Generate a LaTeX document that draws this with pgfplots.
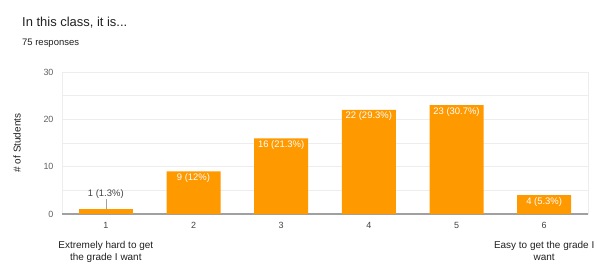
\documentclass[border=0pt]{standalone}
\usepackage{fontspec}
\setmainfont{Liberation Sans}
\usepackage{pgfplots}
\pgfplotsset{compat=1.18}
\definecolor{barorange}{HTML}{FF9900}
\definecolor{gridc}{HTML}{EDEDED}
\definecolor{txt}{HTML}{212121}
\definecolor{tickc}{HTML}{444444}
\definecolor{ytickc}{HTML}{616161}
\definecolor{basec}{HTML}{A0A0A0}
\begin{document}
\begin{tikzpicture}[x=1bp,y=1bp]
\path[use as bounding box, fill=white] (0,0) rectangle (597,269);
\node[anchor=base west, font=\fontsize{13}{15}\selectfont, text=txt, inner sep=0] at (22,242.5) {In this class, it is...};
\node[anchor=base west, font=\fontsize{9.5}{11}\selectfont, text=txt, inner sep=0] at (22,223.5) {75 responses};
\node[rotate=90, font=\fontsize{10}{12}\selectfont, text=txt, inner sep=0] at (17,126) {\# of Students};
\begin{axis}[
  at={(62bp,55bp)}, anchor=south west,
  scale only axis, width=526bp, height=142bp,
  xmin=0.5, xmax=6.5, ymin=0, ymax=30,
  xtick={1,2,3,4,5,6}, xticklabels={1,2,3,4,5,6},
  ytick={0,10,20,30}, minor ytick={5,15,25},
  ymajorgrids, yminorgrids,
  grid style={gridc, line width=0.8bp}, minor grid style={gridc, line width=0.8bp},
  extra y ticks={0}, extra y tick labels={},
  extra y tick style={grid style={basec, line width=1.6bp}},
  axis line style={gridc},
  major tick length=0pt, minor tick length=0pt,
  tick label style={font=\fontsize{9}{11}\selectfont},
  yticklabel style={text=ytickc, xshift=-5bp},
  xticklabel style={text=tickc, yshift=-5bp},
  /pgf/number format/assume math mode=true,
  clip=false,
]
\addplot[ybar, bar width=54bp, bar shift=0pt, fill=barorange, draw=none,
  point meta=explicit symbolic,
  nodes near coords,
  nodes near coords style={anchor=north, text=white, font=\fontsize{9.5}{11}\selectfont, yshift=-1bp, inner sep=1bp},
] coordinates {
  (2,9) [9 (12\%)]
  (3,16) [16 (21.3\%)]
  (4,22) [22 (29.3\%)]
  (5,23) [23 (30.7\%)]
  (6,4) [4 (5.3\%)]
};
\addplot[ybar, bar width=54bp, bar shift=0pt, fill=barorange, draw=none,
  point meta=explicit symbolic,
  nodes near coords,
  nodes near coords style={anchor=south, text=tickc, font=\fontsize{9.5}{11}\selectfont, yshift=10bp, inner sep=1bp},
] coordinates {
  (1,1) [1 (1.3\%)]
};
\draw[basec, line width=0.6bp] (axis cs:1,1) -- (axis cs:1,3.2);
\node[anchor=north, align=center, font=\fontsize{10}{12}\selectfont, text=txt, inner sep=0] at (axis cs:1,0) [yshift=-27bp] {Extremely hard to get\\the grade I want};
\node[anchor=north, align=center, font=\fontsize{10}{12}\selectfont, text=txt, inner sep=0] at (axis cs:6,0) [yshift=-27bp] {Easy to get the grade I\\want};
\end{axis}
\end{tikzpicture}
\end{document}
